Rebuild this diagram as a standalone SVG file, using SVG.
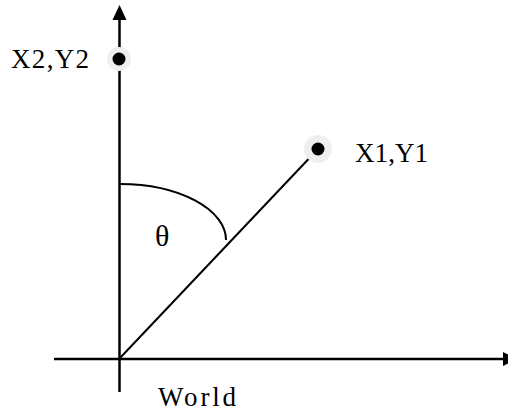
<svg xmlns="http://www.w3.org/2000/svg" width="508" height="412" viewBox="0 0 508 412">
<style>
.ax{stroke:#000;stroke-width:2.5;fill:none}
.ln{stroke:#000;stroke-width:2;fill:none}
.head{fill:#000}
.halo{fill:#efefef}
.dot{fill:#000}
.lbl{font-family:"Liberation Serif","Times New Roman",serif;font-size:27px;fill:#000}
.th{font-family:"Liberation Serif","Times New Roman",serif;font-size:30px;fill:#000}
</style>
<rect width="508" height="412" fill="#fff"/>
<g id="connectors">
<line class="ax" x1="119.5" y1="392" x2="119.5" y2="18"/>
<polygon class="head" points="119.5,5 112.5,20 126.5,20"/>
<line class="ax" x1="54" y1="359" x2="505" y2="359"/>
<polygon class="head" points="517,359 503,352 503,366"/>
<line class="ln" x1="120" y1="358" x2="318" y2="149"/>
<path class="ln" d="M120,184 A106,56 0 0 1 226,240"/>
</g>
<g id="p2">
<circle class="halo" cx="119" cy="59" r="12"/>
<circle class="dot" cx="119" cy="59" r="6.5"/>
<text class="lbl" x="11" y="68" textLength="78" lengthAdjust="spacing">X2,Y2</text>
</g>
<g id="p1">
<circle class="halo" cx="318" cy="149" r="14"/>
<circle class="dot" cx="318" cy="149" r="6.5"/>
<text class="lbl" x="355" y="162" textLength="73" lengthAdjust="spacing">X1,Y1</text>
</g>
<g id="theta">
<text class="th" x="155" y="246">θ</text>
</g>
<g id="world">
<text class="lbl" x="158" y="405.5" textLength="78" lengthAdjust="spacing">World</text>
</g>
</svg>
